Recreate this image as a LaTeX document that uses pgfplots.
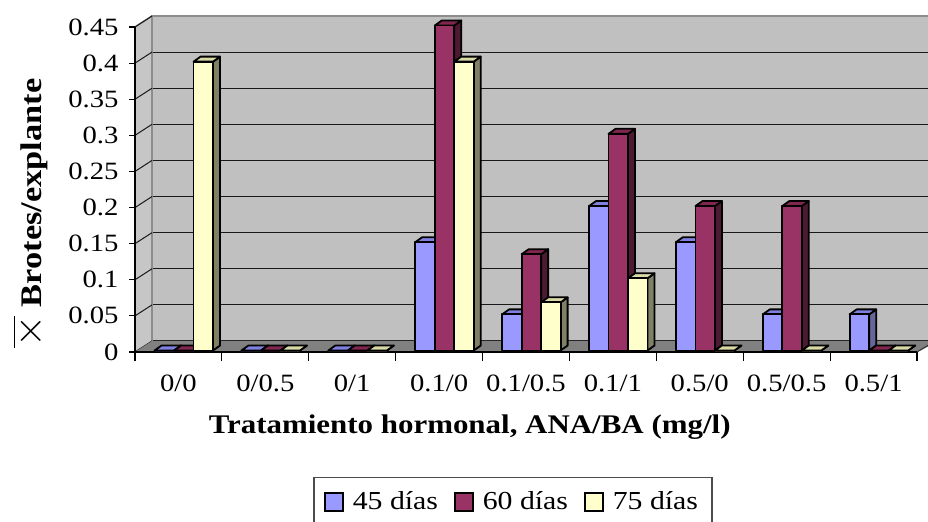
\documentclass[border=0pt]{standalone}
\usepackage{fontspec}
\setmainfont{Liberation Serif}[FakeStretch=1.15]
\usepackage{pgfplots}
\usepackage{pgfplotstable}
\pgfplotsset{compat=1.18}
\definecolor{wall}{HTML}{C0C0C0}
\definecolor{floorc}{HTML}{808080}
\definecolor{cA}{HTML}{9999FF}\definecolor{cAt}{HTML}{8080E0}\definecolor{cAs}{HTML}{666699}
\definecolor{cB}{HTML}{993366}\definecolor{cBt}{HTML}{80264F}\definecolor{cBs}{HTML}{4D1A33}
\definecolor{cC}{HTML}{FFFFCC}\definecolor{cCt}{HTML}{D9D9A6}\definecolor{cCs}{HTML}{808066}

\pgfplotstableread{
x a b c
0 0 0 0.4
1 0 0 0
2 0 0 0
3 0.15 0.45 0.4
4 0.05 0.1333 0.0667
5 0.2 0.3 0.1
6 0.15 0.2 0
7 0.05 0.2 0
8 0.05 0 0
}\data

% 3D box bars: #1 column, #2 shift, #3 colour letter
\pgfplotsset{box3d/.style n args={3}{
  scatter, only marks, mark=*, mark size=0pt, mark options={draw=none, fill=none},
  forget plot,
  visualization depends on={\thisrow{#1} \as \barval},
  scatter/@pre marker code/.code={%
    \pgfmathsetlengthmacro\yB{-\barval*361.11*1bp+0.75bp}%
    \pgfmathsetlengthmacro\yBd{-\barval*361.11*1bp+3.25bp}%
    \pgfmathsetlengthmacro\xL{#2-4.875bp}%
    \pgfmathsetlengthmacro\xR{#2+4.875bp}%
    \pgfmathsetlengthmacro\xLd{#2-1.375bp}%
    \pgfmathsetlengthmacro\xRd{#2+8.375bp}%
    \filldraw[fill=c#3s, draw=black, line width=0.9bp, line join=round] (\xR,\yB) -- (\xRd,\yBd) -- (\xRd,3.25bp) -- (\xR,0.75bp) -- cycle;
    \filldraw[fill=c#3t, draw=black, line width=0.9bp, line join=round] (\xL,0.75bp) -- (\xLd,3.25bp) -- (\xRd,3.25bp) -- (\xR,0.75bp) -- cycle;
    \filldraw[fill=c#3, draw=black, line width=0.9bp, line join=round] (\xL,\yB) rectangle (\xR,0.75bp);
  },
  scatter/@post marker code/.code={},
}}

\begin{document}
\begin{tikzpicture}
\path[use as bounding box] (0,0) rectangle (464bp,261bp);
\clip (0,0) rectangle (464bp,261bp);
% back wall
\begin{axis}[at={(76bp,90.5bp)}, anchor=south west, scale only axis,
  width=388bp, height=162.5bp, xmin=0, xmax=1, ymin=0, ymax=0.45,
  ytick={0,0.05,0.1,0.15,0.2,0.25,0.3,0.35,0.4,0.45}, xtick=\empty, yticklabels={},
  ymajorgrids, grid style={black!90, line width=0.6bp},
  axis line style={draw=none}, major tick length=0pt,
  axis background/.style={fill=wall}]
\end{axis}
% left wall, wall borders, floor
\fill[wall!90!white] (67.5bp,85bp) -- (76bp,90.5bp) -- (76bp,253bp) -- (67.5bp,247.5bp) -- cycle;
\draw[black!45, line width=0.8bp] (76bp,90.5bp) -- (76bp,253bp) -- (470bp,253bp);
\draw[black!45, line width=0.8bp] (67.5bp,247.5bp) -- (76bp,253bp);
\foreach \k in {0,...,9} \draw[black!90, line width=0.5bp] (67.5bp,{85bp+\k*18.0556bp}) -- ++(8.5bp,5.5bp);
\fill[floorc] (67.5bp,85bp) -- (76bp,90.5bp) -- (470bp,90.5bp) -- (458.5bp,85bp) -- cycle;
\draw[black!80, line width=0.5bp] (458.5bp,85bp) -- (475bp,95bp);
% front axis with bars
\begin{axis}[at={(67.5bp,85bp)}, anchor=south west, scale only axis,
  width=391bp, height=162.5bp, xmin=-0.5, xmax=8.5, ymin=0, ymax=0.45,
  clip=false,
  axis x line*=bottom, axis y line*=left,
  axis line style={black, line width=0.6bp, -},
  tick style={black, line width=0.6bp},
  tick align=outside,
  xtick={-0.5,0.5,1.5,2.5,3.5,4.5,5.5,6.5,7.5,8.5},
  x tick label as interval,
  xticklabels={0/0,0/0.5,0/1,0.1/0,0.1/0.5,0.1/1,0.5/0,0.5/0.5,0.5/1},
  xtick style={/pgfplots/major tick length=4.5bp},
  ytick={0,0.05,0.1,0.15,0.2,0.25,0.3,0.35,0.4,0.45},
  yticklabels={0,0.05,0.1,0.15,0.2,0.25,0.3,0.35,0.4,0.45},
  ytick style={/pgfplots/major tick length=3bp},
  tick label style={font=\fontsize{12.5}{14}\selectfont},
  xticklabel style={anchor=base, yshift=-15.5bp},
  yticklabel style={anchor=east, xshift=-0.5bp},
  xlabel={Tratamiento hormonal, ANA/BA (mg/l)},
  xlabel style={at={(axis description cs:0.428,-0.252)}, anchor=base, font=\fontsize{13.5}{15}\selectfont\bfseries},
  ylabel={{\mdseries\fontsize{20}{20}\selectfont$\overline{\times}$} Brotes/explante},
  ylabel style={at={(axis description cs:-0.134,0.427)}, anchor=center, font=\fontsize{15}{17}\selectfont\bfseries},
  legend columns=3,
  legend style={at={(0.4834,-0.3846)}, anchor=north, draw=black!70, line width=0.6bp,
    font=\fontsize{13}{15}\selectfont, inner xsep=5bp, inner ysep=5bp,
    nodes={inner xsep=2bp},
    /tikz/every odd column/.append style={column sep=2.5bp},
    /tikz/every even column/.append style={column sep=6bp}},
  legend image code/.code={\draw[#1, draw=black, line width=0.9bp] (0bp,-4.5bp) rectangle (9bp,4.5bp);},
]
\addlegendimage{fill=cA}
\addlegendentry{45 días}
\addlegendimage{fill=cB}
\addlegendentry{60 días}
\addlegendimage{fill=cC}
\addlegendentry{75 días}
\addplot[box3d={a}{-7.05bp}{A}] table[x=x, y=a] {\data};
\addplot[box3d={b}{2.7bp}{B}] table[x=x, y=b] {\data};
\addplot[box3d={c}{12.45bp}{C}] table[x=x, y=c] {\data};
\end{axis}
\end{tikzpicture}
\end{document}
